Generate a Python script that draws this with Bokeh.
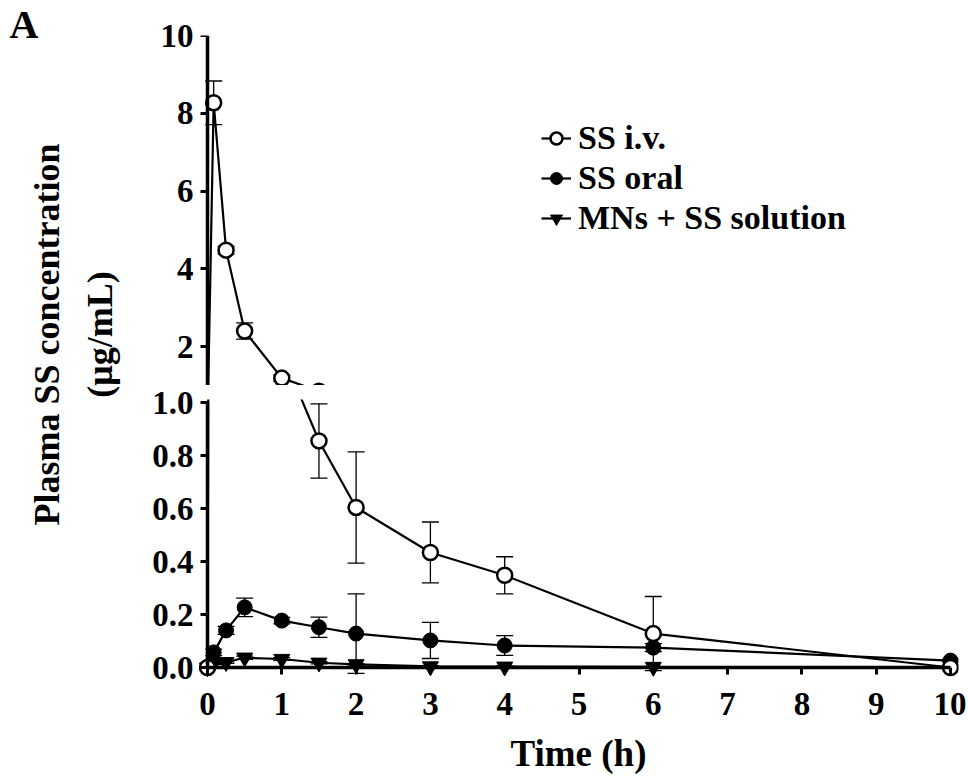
import math
from bokeh.plotting import figure
from bokeh.models import (Range1d, LinearAxis, FixedTicker, Label, Legend,
                          LegendItem, NumeralTickFormatter)
from bokeh.layouts import row, column
from bokeh.embed import file_html
from bokeh.resources import INLINE

# ---------------- data ----------------
time_h = [0, 0.083, 0.25, 0.5, 1, 1.5, 2, 3, 4, 6, 10]
iv_mean = [0.0, 8.27, 4.48, 2.40, 1.19, 0.855, 0.604, 0.434, 0.348, 0.128, 0.0]
iv_sd = [0.0, 0.56, 0.10, 0.21, 0.08, 0.14, 0.21, 0.115, 0.07, 0.14, 0.0]
oral_mean = [0.0, 0.057, 0.14, 0.227, 0.177, 0.152, 0.128, 0.102, 0.083, 0.075, 0.026]
oral_sd = [0.0, 0.012, 0.015, 0.035, 0.012, 0.038, 0.15, 0.068, 0.037, 0.015, 0.005]
mn_time_h = [0, 0.083, 0.25, 0.5, 1, 1.5, 2, 3, 4, 6]
mn_mean = [0.0, 0.015, 0.02, 0.037, 0.032, 0.018, 0.012, 0.004, 0.003, 0.002]
mn_sd = [0.0, 0.004, 0.004, 0.006, 0.005, 0.004, 0.003, 0.003, 0.003, 0.002]

x_ticks = [0, 1, 2, 3, 4, 5, 6, 7, 8, 9, 10]
upper_ticks = [2, 4, 6, 8, 10]
lower_ticks = [0.0, 0.2, 0.4, 0.6, 0.8, 1.0]

series_labels = ["SS i.v.", "SS oral", "MNs + SS solution"]
x_title = "Time (h)"
y_title_1 = "Plasma SS concentration"
y_title_2 = "(\u03bcg/mL)"
panel_label = "A"

FONT = "Liberation Serif"

# ---------------- layout constants (pixels) ----------------
LEFT_W = 130
FRAME_L = 198          # left edge of plotting frame
FRAME_W = 760
BORDER_R = 8
X_ZERO_PX = 207        # where time 0 sits
X_PX_PER_UNIT = 74.3
UP_H = 385
UP_TOP = 35
LOW_H = 391
LOW_TOP = 14
LOW_FRAME_H = 278
LOW_PX_PER_UNIT = 265.0
LOW_PAD_TOP = 3
LOW_PAD_BOTTOM = 10

x_start = -(X_ZERO_PX - FRAME_L) / X_PX_PER_UNIT
x_end = x_start + FRAME_W / X_PX_PER_UNIT
low_start = -LOW_PAD_BOTTOM / LOW_PX_PER_UNIT
low_end = 1.0 + LOW_PAD_TOP / LOW_PX_PER_UNIT
MAIN_W = (FRAME_L - LEFT_W) + FRAME_W + BORDER_R


def text_style(ax, size="33px"):
    ax.major_label_text_font = FONT
    ax.major_label_text_font_style = "bold"
    ax.major_label_text_font_size = size
    ax.major_label_text_color = "black"


def label_axis(ticks, standoff, fmt=None):
    """Axis that only carries the tick labels (at the frame edge)."""
    ax = LinearAxis(ticker=FixedTicker(ticks=ticks))
    ax.axis_line_color = None
    ax.major_tick_line_color = None
    ax.minor_tick_line_color = None
    ax.major_tick_out = 0
    ax.major_tick_in = 0
    ax.minor_tick_out = 0
    ax.minor_tick_in = 0
    ax.major_label_standoff = standoff
    text_style(ax)
    if fmt is not None:
        ax.formatter = fmt
    return ax


def rule_axis(ticks, bounds):
    """Axis line + outward ticks pinned at the data origin (no labels)."""
    ax = LinearAxis(ticker=FixedTicker(ticks=ticks))
    ax.bounds = bounds
    ax.fixed_location = 0
    ax.axis_line_width = 3.5
    ax.axis_line_color = "black"
    ax.major_tick_line_width = 3
    ax.major_tick_line_color = "black"
    ax.major_tick_out = 0
    ax.major_tick_in = 7
    ax.minor_tick_out = 0
    ax.minor_tick_in = 0
    ax.major_label_standoff = 0
    ax.major_label_text_font_size = "1px"
    ax.major_label_text_color = None
    return ax


def make_main(height, y_range, border_top, border_bottom):
    p = figure(width=MAIN_W, height=height, x_range=Range1d(x_start, x_end),
               y_range=Range1d(*y_range), output_backend="svg",
               toolbar_location=None, x_axis_location=None, y_axis_location=None,
               title=None, min_border_left=FRAME_L - LEFT_W,
               min_border_right=BORDER_R,
               min_border_top=border_top, min_border_bottom=border_bottom)
    p.grid.visible = False
    p.outline_line_color = None
    p.background_fill_color = "white"
    p.border_fill_color = "white"
    return p


def draw_series(p, t, mean, sd, marker, fill, size, lw):
    et = [a for a, s in zip(t, sd) if s > 0]
    lo = [m - s for m, s in zip(mean, sd) if s > 0]
    hi = [m + s for m, s in zip(mean, sd) if s > 0]
    p.segment(et, lo, et, hi, line_color="black", line_width=1.3)
    p.scatter(et, hi, marker="dash", size=17, line_color="black", line_width=1.3)
    p.scatter(et, lo, marker="dash", size=17, line_color="black", line_width=1.3)
    lr = p.line(t, mean, line_color="black", line_width=2.2)
    mr = p.scatter(t, mean, marker=marker, size=size, fill_color=fill,
                   line_color="black", line_width=lw)
    return lr, mr


def draw_all(p):
    r_mn = draw_series(p, mn_time_h, mn_mean, mn_sd, "inverted_triangle", "black", 16, 1)
    r_oral = draw_series(p, time_h, oral_mean, oral_sd, "circle", "black", 15, 1)
    r_iv = draw_series(p, time_h, iv_mean, iv_sd, "circle", "white", 15, 2.5)
    return r_iv, r_oral, r_mn


# ---------------- upper segment (1 - 10) ----------------
p_up = make_main(UP_H, (1.0, 10.0), UP_TOP, 0)
p_up.add_layout(label_axis(upper_ticks, 5), "left")
p_up.add_layout(rule_axis(upper_ticks, (1, 10)), "right")
r_iv, r_oral, r_mn = draw_all(p_up)

legend = Legend(items=[
    LegendItem(label=series_labels[0], renderers=[r_iv[0], r_iv[1]]),
    LegendItem(label=series_labels[1], renderers=[r_oral[0], r_oral[1]]),
    LegendItem(label=series_labels[2], renderers=[r_mn[0], r_mn[1]]),
], location=(343, 148), orientation="vertical",
    border_line_color=None, background_fill_alpha=0,
    label_text_font=FONT, label_text_font_style="bold", label_text_font_size="34px",
    label_text_color="black",
    glyph_width=30, glyph_height=30, label_height=30, spacing=2, padding=0,
    margin=0, label_standoff=7)
p_up.add_layout(legend)

# ---------------- lower segment (0 - 1.0) ----------------
p_low = make_main(LOW_H, (low_start, low_end), LOW_TOP,
                  LOW_H - LOW_TOP - LOW_FRAME_H)
p_low.add_layout(label_axis(lower_ticks, 5, NumeralTickFormatter(format="0.0")), "left")
p_low.add_layout(rule_axis(lower_ticks, (0, 1)), "right")
xa = label_axis(x_ticks, 15)
xa.axis_label = x_title
xa.axis_label_text_font = FONT
xa.axis_label_text_font_style = "bold"
xa.axis_label_text_font_size = "37px"
xa.axis_label_text_color = "black"
xa.axis_label_standoff = 15
p_low.add_layout(xa, "below")
p_low.add_layout(rule_axis(x_ticks, (0, 10)), "above")
draw_all(p_low)

# ---------------- left strip: panel letter and y title ----------------
TOTAL_H = UP_H + LOW_H
p_left = figure(width=LEFT_W, height=TOTAL_H, x_range=Range1d(0, LEFT_W),
                y_range=Range1d(0, TOTAL_H), output_backend="svg",
                toolbar_location=None, x_axis_location=None, y_axis_location=None,
                title=None, min_border=0)
p_left.grid.visible = False
p_left.outline_line_color = None
p_left.add_layout(Label(x=23.5, y=TOTAL_H - 24, text=panel_label, text_font=FONT,
                        text_font_style="bold", text_font_size="40px",
                        text_color="black",
                        text_align="center", text_baseline="middle"))
p_left.add_layout(Label(x=46, y=TOTAL_H - 334, text=y_title_1, angle=math.pi / 2,
                        text_font=FONT, text_font_style="bold", text_font_size="36px",
                        text_color="black",
                        text_align="center", text_baseline="middle"))
p_left.add_layout(Label(x=99, y=TOTAL_H - 334, text=y_title_2, angle=math.pi / 2,
                        text_font=FONT, text_font_style="bold", text_font_size="36px",
                        text_color="black",
                        text_align="center", text_baseline="middle"))

layout = row(p_left, column(p_up, p_low, spacing=0), spacing=0)

open("out.html", "w").write(file_html(layout, INLINE))
